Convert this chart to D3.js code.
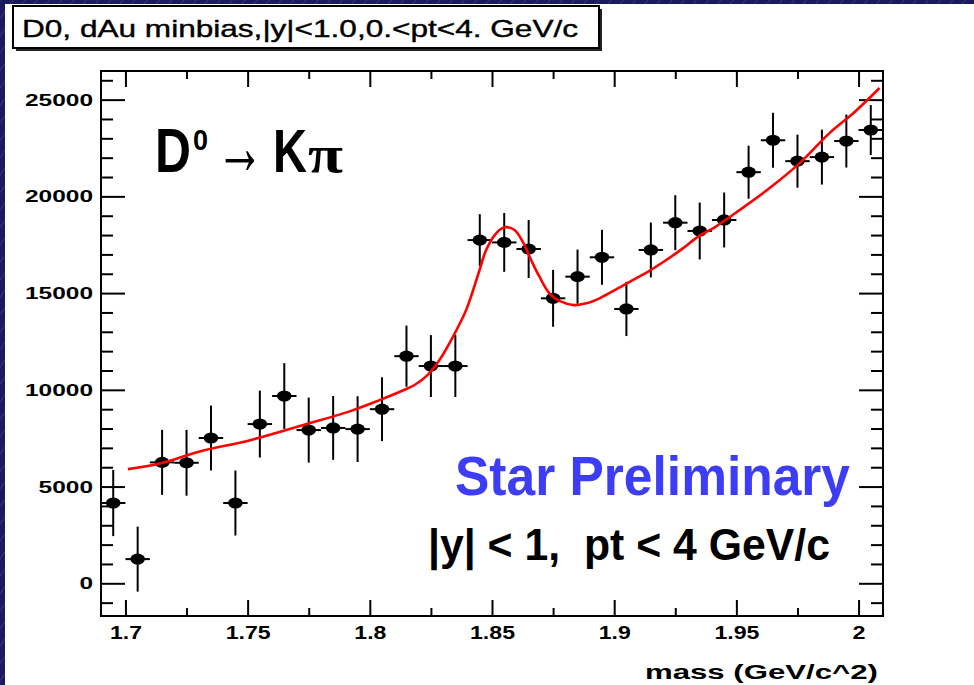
<!DOCTYPE html>
<html><head><meta charset="utf-8">
<script src="https://cdn.jsdelivr.net/npm/d3@7"></script>
<style>
html,body{margin:0;padding:0;background:#1b1a5c;overflow:hidden;}
svg{display:block;}
text{font-family:"Liberation Sans",Arial,Helvetica,sans-serif;}
</style></head><body>
<svg id="chart" width="974" height="685"></svg>
<script>
// Invariant-mass histogram (bin centres, GeV/c^2) with counts and errors
const massBins = [1.695, 1.705, 1.715, 1.725, 1.735, 1.745, 1.755, 1.765, 1.775, 1.785,
                  1.795, 1.805, 1.815, 1.825, 1.835, 1.845, 1.855, 1.865, 1.875, 1.885,
                  1.895, 1.905, 1.915, 1.925, 1.935, 1.945, 1.955, 1.965, 1.975, 1.985,
                  1.995, 2.005];
const counts = [4150, 1250, 6250, 6230, 7510, 4150, 8230, 9680, 7920, 8030,
                7970, 9000, 11740, 11230, 11230, 17740, 17620, 17280, 14730, 15850,
                16850, 14180, 17230, 18640, 18210, 18780, 21250, 22900, 21820, 22030,
                22860, 23430];
const countErrors = [1710, 1680, 1680, 1700, 1680, 1680, 1730, 1700, 1680, 1650,
                     1700, 1650, 1580, 1600, 1600, 1340, 1520, 1500, 1470, 1400,
                     1420, 1400, 1420, 1420, 1470, 1420, 1370, 1420, 1370, 1420,
                     1370, 1290];
const binHalfWidth = 0.005;

// Fitted signal + background curve
const fitMass = [1.701, 1.715, 1.730, 1.751, 1.771, 1.792, 1.804, 1.814, 1.8183, 1.8236,
                 1.8285, 1.8340, 1.8394, 1.8449, 1.8476, 1.8517, 1.8551, 1.8592, 1.8626, 1.8660,
                 1.8694, 1.8735, 1.8776, 1.8837, 1.8886, 1.8940, 1.9008, 1.9076, 1.9144, 1.9213,
                 1.9281, 1.9342, 1.9411, 1.9513, 1.9636, 1.9759, 1.9881, 1.9984, 2.0086];
const fitCounts = [5900, 6220, 6800, 7400, 8120, 8900, 9470, 9990, 10250, 10760,
                   11540, 12740, 14120, 16190, 17230, 18090, 18400, 18260, 17650, 16710,
                   15850, 14990, 14600, 14380, 14470, 14730, 15190, 15670, 16150, 16710,
                   17310, 17910, 18400, 19290, 20430, 21720, 23270, 24360, 25600];

// Axis ticks
const xMajorTicks = [1.7, 1.75, 1.8, 1.85, 1.9, 1.95, 2.0];
const xTickLabels = ["1.7", "1.75", "1.8", "1.85", "1.9", "1.95", "2"];
const xMinorTicks = [1.725, 1.775, 1.825, 1.875, 1.925, 1.975];
const yMajorTicks = [0, 5000, 10000, 15000, 20000, 25000];
const yTickLabels = ["0", "5000", "10000", "15000", "20000", "25000"];
const yMinorTicks = [-1000, 1000, 2000, 3000, 4000, 6000, 7000, 8000, 9000, 11000, 12000,
                     13000, 14000, 16000, 17000, 18000, 19000, 21000, 22000, 23000, 24000, 26000];

const titleText = "D0, dAu minbias,|y|<1.0,0.<pt<4. GeV/c";
const xAxisTitle = "mass (GeV/c^2)";

const svg = d3.select("#chart");
const W = 974, H = 685;
const frame = {left: 101, right: 883, top: 71, bottom: 616};

// Navy hatched backdrop and white canvas
const defs = svg.append("defs");
const pat = defs.append("pattern").attr("id", "hatch").attr("patternUnits", "userSpaceOnUse")
  .attr("width", 10).attr("height", 10).attr("patternTransform", "rotate(35)");
pat.append("rect").attr("width", 10).attr("height", 10).attr("fill", "#1c1a5e");
pat.append("line").attr("x1", 0).attr("y1", 0).attr("x2", 0).attr("y2", 10)
  .attr("stroke", "#3b3a8c").attr("stroke-width", 1.5);
svg.append("rect").attr("width", W).attr("height", H).attr("fill", "url(#hatch)");
svg.append("rect").attr("x", 5).attr("y", 4).attr("width", W - 5).attr("height", H - 4).attr("fill", "#fff");

const x = d3.scaleLinear().domain([1.69, 2.01]).range([frame.left, frame.right]);
const y = d3.scaleLinear().domain([-1690, 26480]).range([frame.bottom, frame.top]);

function styleAxis(g) {
  g.select(".domain").remove();
  g.selectAll(".tick line").attr("stroke", "#000").attr("stroke-width", 2);
  g.selectAll("text").attr("fill", "#000").attr("font-weight", "bold");
}

// Bottom axis with labels
const gxb = svg.append("g").attr("transform", `translate(0,${frame.bottom})`)
  .call(d3.axisBottom(x).tickValues(xMajorTicks).tickSizeInner(-16).tickSizeOuter(0)
    .tickPadding(10).tickFormat((d, i) => xTickLabels[i]));
styleAxis(gxb);
gxb.selectAll("text").attr("font-size", 19)
  .attr("textLength", function () { const s = this.textContent; return (s.replace(".", "").length) * 13 + (s.includes(".") ? 6 : 0); })
  .attr("lengthAdjust", "spacingAndGlyphs");
svg.append("g").attr("transform", `translate(0,${frame.bottom})`)
  .call(d3.axisBottom(x).tickValues(xMinorTicks).tickSizeInner(-8).tickSizeOuter(0).tickFormat(""))
  .call(styleAxis);

// Top mirror ticks
svg.append("g").attr("transform", `translate(0,${frame.top})`)
  .call(d3.axisTop(x).tickValues(xMajorTicks).tickSizeInner(-16).tickSizeOuter(0).tickFormat(""))
  .call(styleAxis);
svg.append("g").attr("transform", `translate(0,${frame.top})`)
  .call(d3.axisTop(x).tickValues(xMinorTicks).tickSizeInner(-8).tickSizeOuter(0).tickFormat(""))
  .call(styleAxis);

// Left axis with labels
const gyl = svg.append("g").attr("transform", `translate(${frame.left},0)`)
  .call(d3.axisLeft(y).tickValues(yMajorTicks).tickSizeInner(-24).tickSizeOuter(0)
    .tickPadding(8).tickFormat((d, i) => yTickLabels[i]));
styleAxis(gyl);
gyl.selectAll("text").attr("font-size", 17)
  .attr("textLength", function () { return this.textContent.length * 13.6; })
  .attr("lengthAdjust", "spacingAndGlyphs");
svg.append("g").attr("transform", `translate(${frame.left},0)`)
  .call(d3.axisLeft(y).tickValues(yMinorTicks).tickSizeInner(-12).tickSizeOuter(0).tickFormat(""))
  .call(styleAxis);

// Right mirror ticks
svg.append("g").attr("transform", `translate(${frame.right},0)`)
  .call(d3.axisRight(y).tickValues(yMajorTicks).tickSizeInner(-24).tickSizeOuter(0).tickFormat(""))
  .call(styleAxis);
svg.append("g").attr("transform", `translate(${frame.right},0)`)
  .call(d3.axisRight(y).tickValues(yMinorTicks).tickSizeInner(-12).tickSizeOuter(0).tickFormat(""))
  .call(styleAxis);

// Frame
svg.append("rect").attr("x", frame.left).attr("y", frame.top)
  .attr("width", frame.right - frame.left).attr("height", frame.bottom - frame.top)
  .attr("fill", "none").attr("stroke", "#000").attr("stroke-width", 2);

// Data points with error bars
const pts = svg.append("g");
const rows = massBins.map((m, i) => ({m, c: counts[i], e: countErrors[i]}));
pts.selectAll("line.ey").data(rows).join("line").attr("class", "ey")
  .attr("x1", d => x(d.m)).attr("x2", d => x(d.m))
  .attr("y1", d => y(d.c - d.e)).attr("y2", d => y(d.c + d.e))
  .attr("stroke", "#000").attr("stroke-width", 2);
pts.selectAll("line.ex").data(rows).join("line").attr("class", "ex")
  .attr("x1", d => x(d.m - binHalfWidth)).attr("x2", d => x(d.m + binHalfWidth))
  .attr("y1", d => y(d.c)).attr("y2", d => y(d.c))
  .attr("stroke", "#000").attr("stroke-width", 2);
pts.selectAll("ellipse").data(rows).join("ellipse")
  .attr("cx", d => x(d.m)).attr("cy", d => y(d.c)).attr("rx", 7.3).attr("ry", 5.6)
  .attr("fill", "#000");

// Fit curve
const fitLine = d3.line().x(d => x(d[0])).y(d => y(d[1])).curve(d3.curveCatmullRom.alpha(0.5));
svg.append("path").datum(fitMass.map((m, i) => [m, fitCounts[i]]))
  .attr("d", fitLine).attr("fill", "none").attr("stroke", "#ff0000").attr("stroke-width", 2.6);

// Title box
svg.append("rect").attr("x", 16).attr("y", 9).attr("width", 586).attr("height", 42).attr("fill", "#222");
svg.append("rect").attr("x", 13).attr("y", 6).attr("width", 586).attr("height", 42)
  .attr("fill", "#fff").attr("stroke", "#000").attr("stroke-width", 2);
svg.append("text").attr("x", 22).attr("y", 37).attr("font-size", 24)
  .attr("stroke", "#000").attr("stroke-width", 0.4)
  .attr("textLength", 556).attr("lengthAdjust", "spacingAndGlyphs")
  .attr("fill", "#000").text(titleText);

// X axis title
svg.append("text").attr("x", 878).attr("y", 679).attr("text-anchor", "end")
  .attr("font-size", 21).attr("font-weight", "bold")
  .attr("textLength", 233).attr("lengthAdjust", "spacingAndGlyphs").text(xAxisTitle);

// Decay channel label: D0 -> K pi, each piece squeezed horizontally to its slot
const ch = svg.append("g").attr("fill", "#000").attr("font-weight", "bold");
function piece(str, px, py, size, width, family, weight) {
  const t = ch.append("text").attr("x", 0).attr("y", 0).attr("font-size", size).text(str);
  if (family) t.style("font-family", family);
  if (weight) t.attr("font-weight", weight);
  const natural = t.node().getComputedTextLength();
  t.attr("transform", `translate(${px},${py}) scale(${width / natural},1)`);
  return t;
}
piece("D", 155, 172, 62, 36);
piece("0", 193, 150, 30, 15);
piece("\u2192", 216, 174, 80, 48, null, "normal");
piece("K", 273, 172, 62, 34);
piece("\u03c0", 308, 172, 52, 35, "'Liberation Serif','Times New Roman',serif");

// Preliminary and cut labels
svg.append("text").attr("x", 455).attr("y", 495).attr("font-size", 56).attr("font-weight", "bold")
  .attr("fill", "#3d3df5").attr("textLength", 395).attr("lengthAdjust", "spacingAndGlyphs")
  .text("Star Preliminary");
svg.append("text").attr("x", 428).attr("y", 560).attr("font-size", 45).attr("font-weight", "bold")
  .attr("fill", "#000").style("white-space", "pre").attr("textLength", 402).attr("lengthAdjust", "spacingAndGlyphs")
  .text("|y| < 1,  pt < 4 GeV/c");
</script>
</body></html>
